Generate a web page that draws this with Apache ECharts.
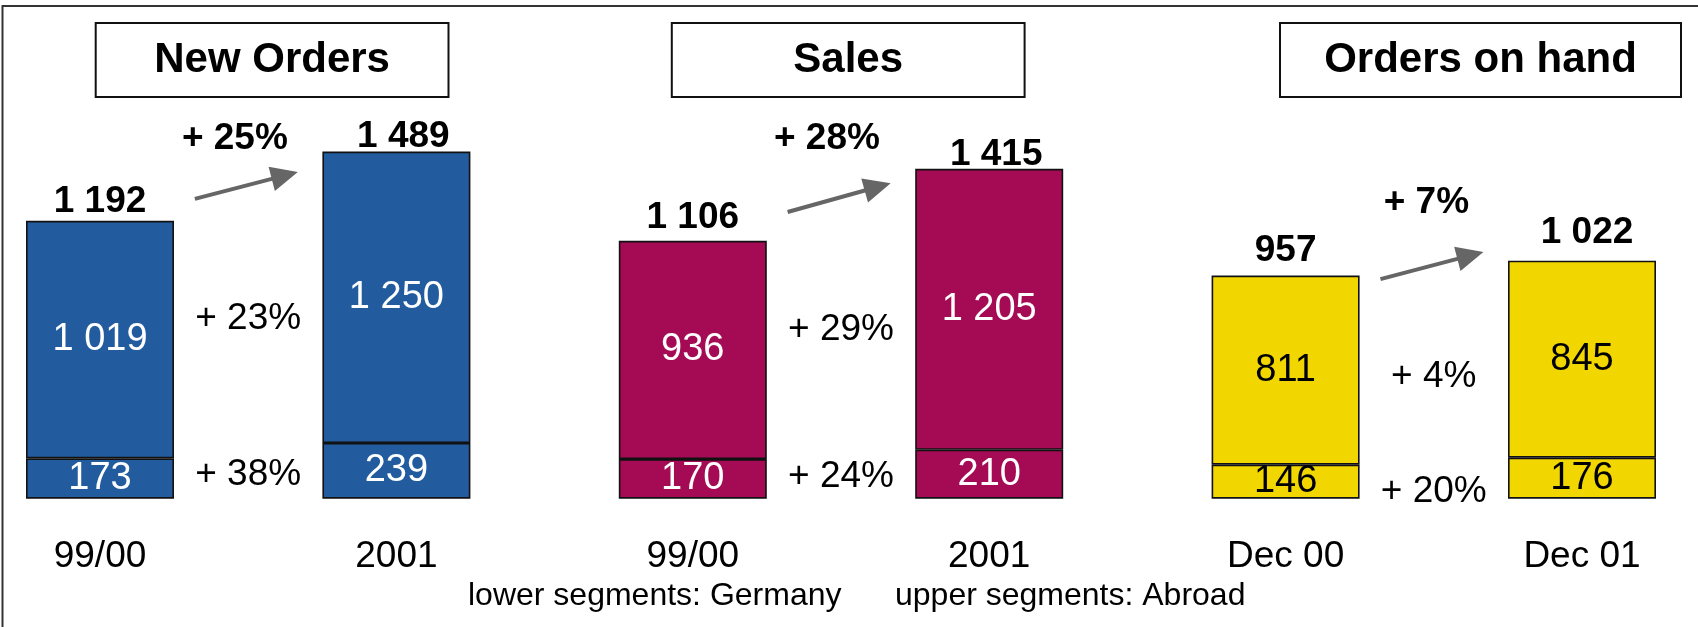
<!DOCTYPE html>
<html>
<head>
<meta charset="utf-8">
<script src="https://cdn.jsdelivr.net/npm/echarts@6/dist/echarts.min.js"></script>
<style>
html,body{margin:0;padding:0;background:#fff;}
#chart{width:1698px;height:627px;}
</style>
</head>
<body>
<div id="chart"></div>
<script>
// ---------------- data ----------------
const panelTitles   = ['New Orders', 'Sales', 'Orders on hand'];
const periods       = [['99/00', '2001'], ['99/00', '2001'], ['Dec 00', 'Dec 01']];
const germany       = [[173, 239], [170, 210], [146, 176]];     // lower segments
const abroad        = [[1019, 1250], [936, 1205], [811, 845]];  // upper segments
const totals        = [[1192, 1489], [1106, 1415], [957, 1022]];
const growthTotal   = ['+ 25%', '+ 28%', '+ 7%'];
const growthAbroad  = ['+ 23%', '+ 29%', '+ 4%'];
const growthGermany = ['+ 38%', '+ 24%', '+ 20%'];
const footnotes     = ['lower segments: Germany', 'upper segments: Abroad'];

// ---------------- styles / layout ----------------
const FONT = '"Liberation Sans", Arial, Helvetica, sans-serif';
const panelColors = ['#225C9F', '#A50A55', '#F2D600'];
const labelColors = ['#ffffff', '#ffffff', '#000000'];
const layout = {
  titleBoxes: [[95.7, 23, 352.8, 74], [671.8, 23, 352.8, 74], [1280, 23, 401, 74]],
  arrowFrom: [1286, 1230, 942],   // y anchors (value units) of arrow tails
  arrowTo:   [1401, 1353, 1058],  // y anchors (value units) of arrow heads
  arrowX:    [-0.36, 0.335],      // x offsets in category bands from middle slot
  growthLabel: [[-0.09, 1543], [-0.095, 1543], [-0.05, 1268]],
  totalLabelOffset: [[[0, 2], [7, 7]], [[0, -2], [7, 7]], [[0, -3], [5, -6]]],
  midLabelOffset: [0, 0, 12],
  footnotes: [[468, 596], [895, 596]]
};

const fmt = v => String(v).replace(/\B(?=(\d{3})+(?!\d))/g, ' ');

// Build slot-based category axis: bar, middle, bar, gap, ...
const categories = [];
const barSlot = [];
const midSlot = [];
panelTitles.forEach((t, p) => {
  barSlot.push([categories.length, categories.length + 2]);
  midSlot.push(categories.length + 1);
  categories.push(periods[p][0], '', periods[p][1]);
  if (p < panelTitles.length - 1) categories.push('');
});
const N = categories.length;
const blank = () => new Array(N).fill('-');

const germanyData = blank(), abroadData = blank(), totalData = blank();
panelTitles.forEach((t, p) => {
  [0, 1].forEach(k => {
    const i = barSlot[p][k];
    germanyData[i] = { value: germany[p][k], itemStyle: { color: panelColors[p] }, label: { color: labelColors[p] } };
    abroadData[i]  = { value: abroad[p][k],  itemStyle: { color: panelColors[p] }, label: { color: labelColors[p] } };
    totalData[i]   = { value: totals[p][k], label: { offset: layout.totalLabelOffset[p][k] } };
  });
});
// middle growth labels placed at the average of the segment midpoints
const midAbroad = [], midGermany = [];
panelTitles.forEach((t, p) => {
  const gm = (germany[p][0] / 2 + germany[p][1] / 2) / 2;
  const ab = ((germany[p][0] + abroad[p][0] / 2) + (germany[p][1] + abroad[p][1] / 2)) / 2;
  const lab = { offset: [0, layout.midLabelOffset[p]] };
  midGermany.push({ value: [midSlot[p], gm, growthGermany[p]], label: lab });
  midAbroad.push({ value: [midSlot[p], ab, growthAbroad[p]], label: lab });
});

const chart = echarts.init(document.getElementById('chart'), null, { renderer: 'canvas' });

const textLabel = (size, weight) => ({
  show: true, fontSize: size, fontWeight: weight, fontFamily: FONT, color: '#000000', opacity: 1,
  textBorderWidth: 0
});

const option = {
  backgroundColor: '#ffffff',
  animation: false,
  grid: { left: 25.9, right: 41.9, top: 125.7, bottom: 128.3, containLabel: false },
  xAxis: {
    type: 'category',
    data: categories,
    axisLine: { show: false },
    axisTick: { show: false },
    splitLine: { show: false },
    axisLabel: { interval: 0, margin: 40, fontSize: 37, fontFamily: FONT, color: '#000' }
  },
  yAxis: {
    type: 'value', min: 0, max: 1600, interval: 400,
    show: false, splitLine: { show: false }
  },
  series: [
    {
      name: 'Germany', type: 'bar', stack: 'total', barWidth: 148,
      data: germanyData,
      itemStyle: { borderColor: '#111', borderWidth: 1.6 },
      label: { show: true, position: 'inside', fontSize: 38, fontFamily: FONT, formatter: d => fmt(d.value) }
    },
    {
      name: 'Abroad', type: 'bar', stack: 'total', barWidth: 148,
      data: abroadData,
      itemStyle: { borderColor: '#111', borderWidth: 1.6 },
      label: { show: true, position: 'inside', fontSize: 38, fontFamily: FONT, formatter: d => fmt(d.value) }
    },
    {
      name: 'Total', type: 'scatter', symbolSize: 0, silent: true,
      itemStyle: { opacity: 1 },
      data: totalData,
      label: Object.assign(textLabel(37, 'bold'), { position: 'top', distance: 3, formatter: d => fmt(d.value) })
    },
    {
      name: 'Growth Abroad', type: 'scatter', symbolSize: 0, silent: true,
      itemStyle: { opacity: 1 },
      data: midAbroad,
      label: Object.assign(textLabel(37, 'normal'), { position: 'inside', formatter: d => d.value[2] })
    },
    {
      name: 'Growth Germany', type: 'scatter', symbolSize: 0, silent: true,
      itemStyle: { opacity: 1 },
      data: midGermany,
      label: Object.assign(textLabel(37, 'normal'), { position: 'inside', formatter: d => d.value[2] })
    }
  ]
};
chart.setOption(option);

// ---------------- annotations (frame, title boxes, arrows, growth labels, footnote) ----------------
const px = (idx, v) => chart.convertToPixel({ gridIndex: 0 }, [idx, v]);
const band = px(1, 0)[0] - px(0, 0)[0];
const g = [];
g.push({ type: 'rect', silent: true, shape: { x: 2.5, y: 6, width: 1740, height: 700 },
         style: { fill: 'none', stroke: '#333', lineWidth: 2 } });
panelTitles.forEach((t, p) => {
  const b = layout.titleBoxes[p];
  g.push({ type: 'rect', silent: true, shape: { x: b[0], y: b[1], width: b[2], height: b[3] },
           style: { fill: '#fff', stroke: '#111', lineWidth: 2 } });
  g.push({ type: 'text', silent: true, x: b[0] + b[2] / 2, y: b[1] + b[3] / 2,
           style: { text: t, fontSize: 42, fontWeight: 'bold', fontFamily: FONT, fill: '#000',
                    align: 'center', verticalAlign: 'middle' } });
  // arrow
  const cx = px(midSlot[p], 0)[0];
  const x1 = cx + layout.arrowX[0] * band, y1 = px(midSlot[p], layout.arrowFrom[p])[1];
  const x2 = cx + layout.arrowX[1] * band, y2 = px(midSlot[p], layout.arrowTo[p])[1];
  const len = Math.hypot(x2 - x1, y2 - y1), ux = (x2 - x1) / len, uy = (y2 - y1) / len;
  const L = 27, W = 12.5, bx = x2 - ux * L, by = y2 - uy * L;
  g.push({ type: 'line', silent: true, shape: { x1: x1, y1: y1, x2: bx + ux * 2, y2: by + uy * 2 },
           style: { stroke: '#666', lineWidth: 4 } });
  g.push({ type: 'polygon', silent: true,
           shape: { points: [[x2, y2], [bx - uy * W, by + ux * W], [bx + uy * W, by - ux * W]] },
           style: { fill: '#666' } });
  // total growth label
  const gl = layout.growthLabel[p];
  g.push({ type: 'text', silent: true, x: cx + gl[0] * band, y: px(midSlot[p], gl[1])[1],
           style: { text: growthTotal[p], fontSize: 37, fontWeight: 'bold', fontFamily: FONT, fill: '#000',
                    align: 'center', verticalAlign: 'middle' } });
});
footnotes.forEach((t, i) => {
  const f = layout.footnotes[i];
  g.push({ type: 'text', silent: true, x: f[0], y: f[1],
           style: { text: t, fontSize: 32, fontFamily: FONT, fill: '#000', align: 'left', verticalAlign: 'middle' } });
});
chart.setOption({ graphic: g });
</script>
</body>
</html>
